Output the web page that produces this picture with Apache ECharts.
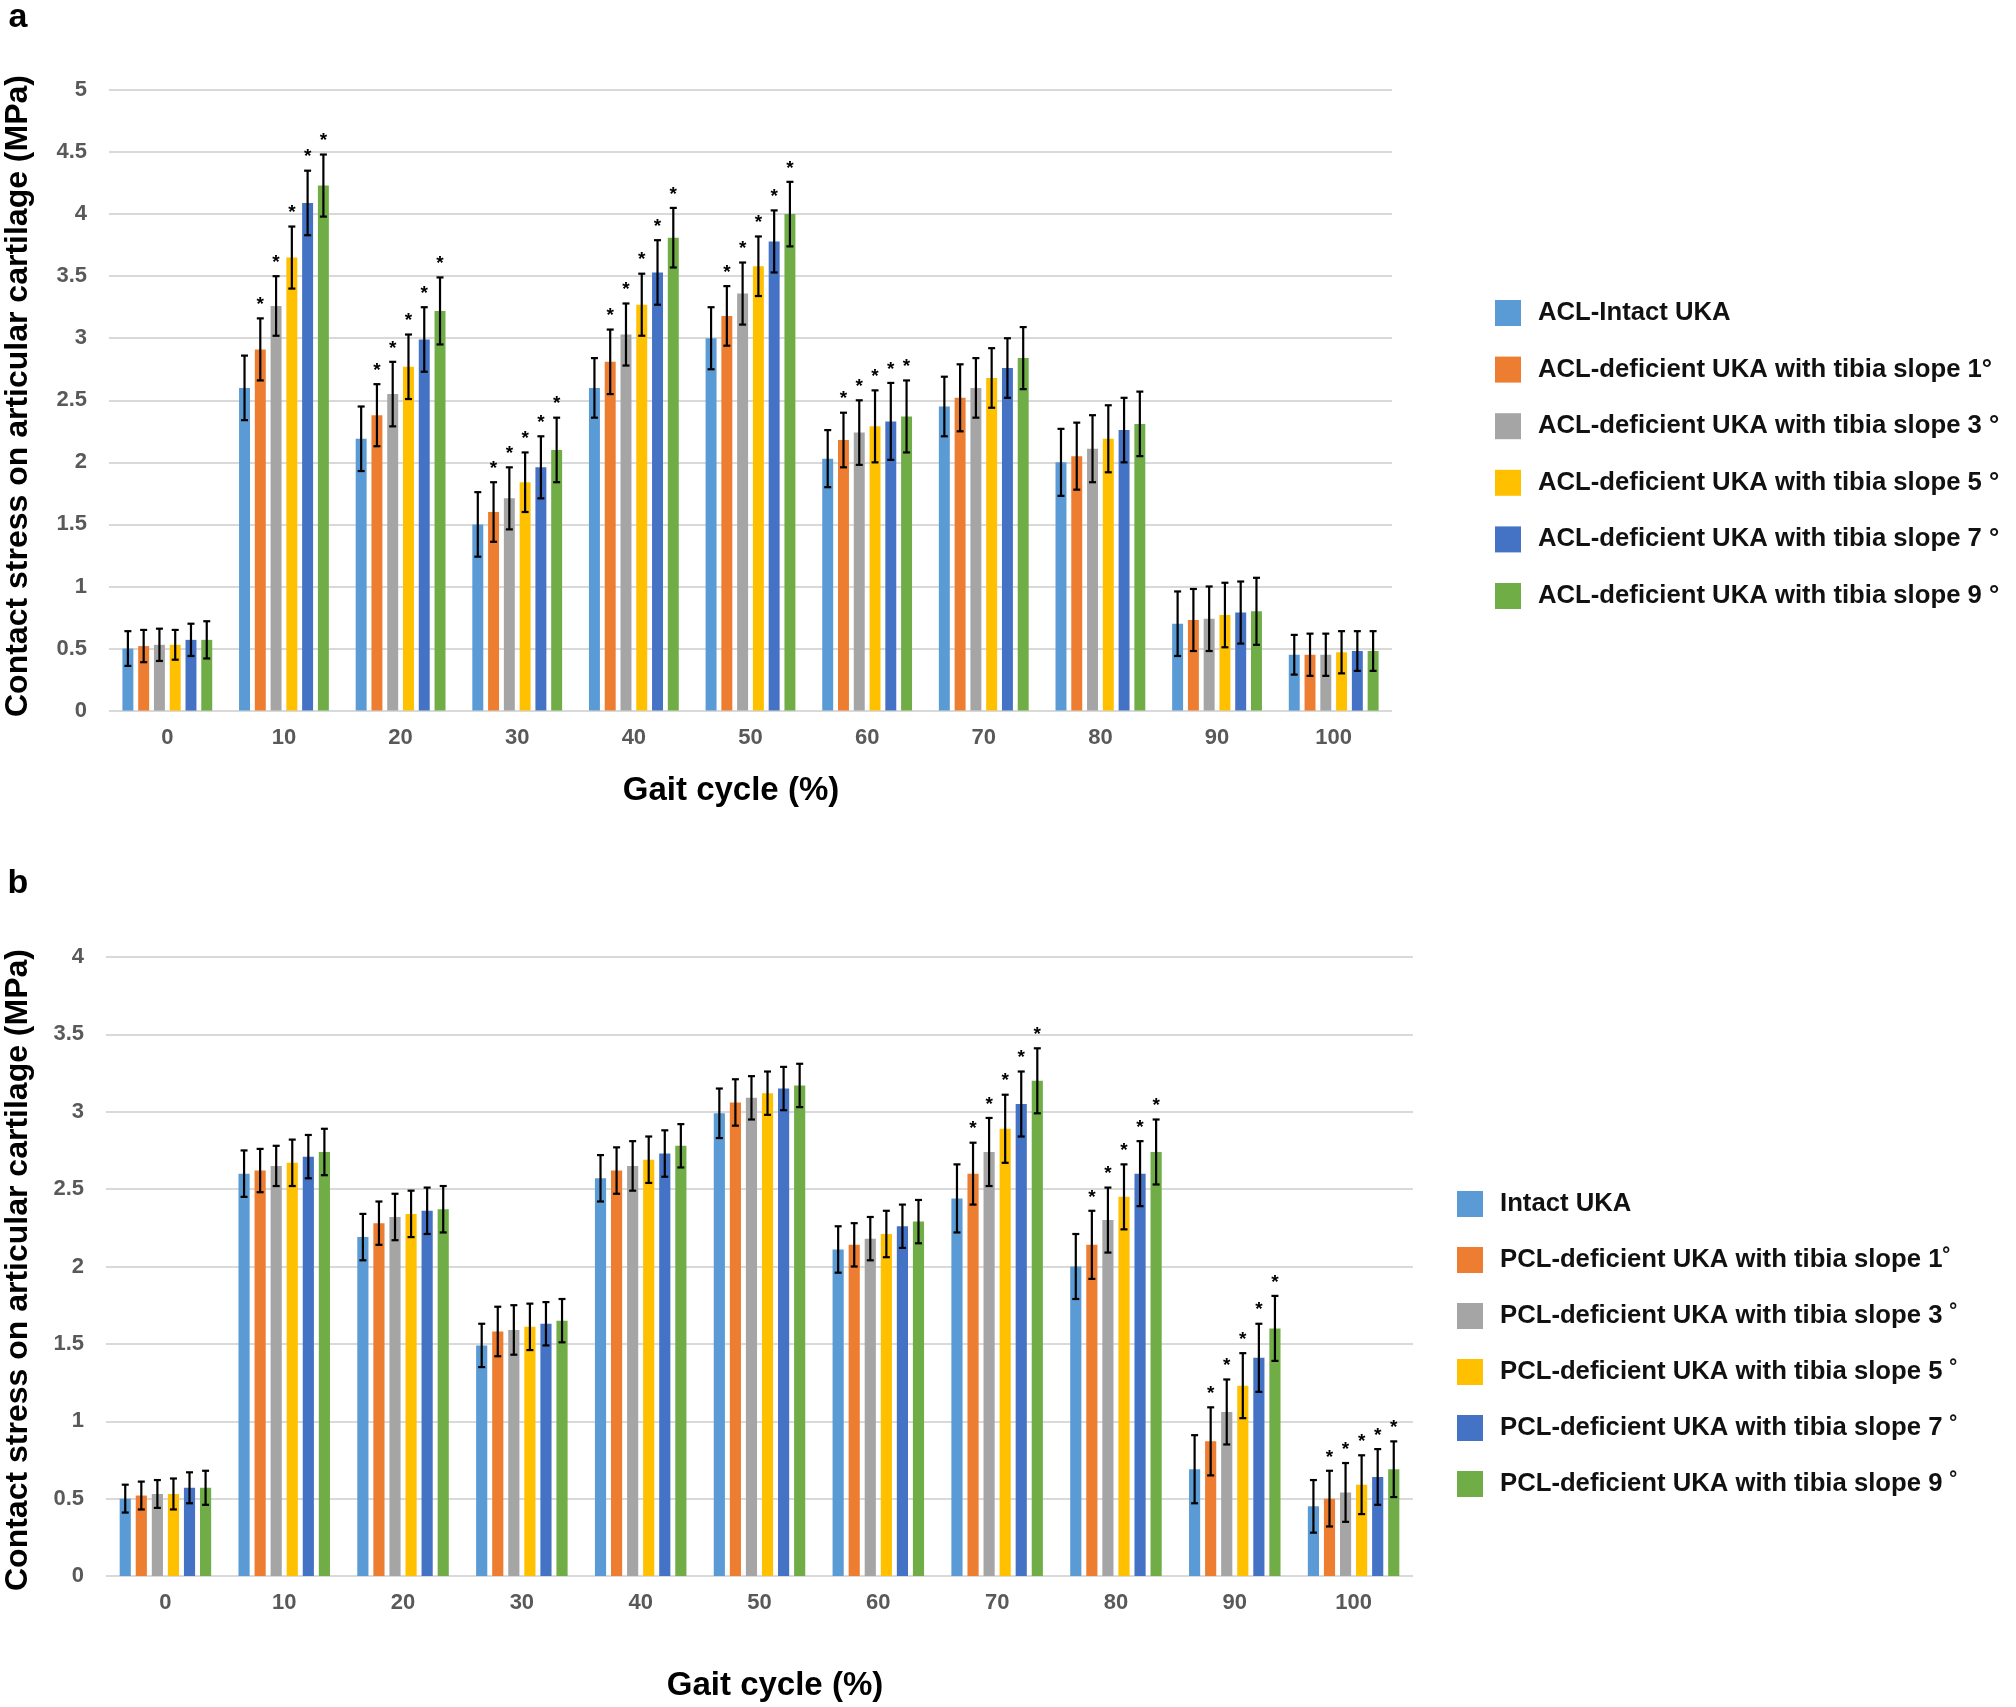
<!DOCTYPE html>
<html>
<head>
<meta charset="utf-8">
<script src="https://cdn.jsdelivr.net/npm/echarts@6/dist/echarts.min.js"></script>
<style>html,body{margin:0;padding:0;background:#fff;}#c{width:2016px;height:1707px;}</style>
</head>
<body>
<div id="c"></div>
<script>
const categories = ['0','10','20','30','40','50','60','70','80','90','100'];
const yTicksA = { min: 0, max: 5, interval: 0.5 };
const yTicksB = { min: 0, max: 4, interval: 0.5 };

const namesA = ['ACL-Intact UKA','ACL-deficient UKA with tibia slope 1°','ACL-deficient UKA with tibia slope 3 °','ACL-deficient UKA with tibia slope 5 °','ACL-deficient UKA with tibia slope 7 °','ACL-deficient UKA with tibia slope 9 °'];
const namesB = ['Intact UKA','PCL-deficient UKA with tibia slope 1˚','PCL-deficient UKA with tibia slope 3 ˚','PCL-deficient UKA with tibia slope 5 ˚','PCL-deficient UKA with tibia slope 7 ˚','PCL-deficient UKA with tibia slope 9 ˚'];
const colors = ['#5B9BD5','#ED7D31','#A5A5A5','#FFC000','#4472C4','#70AD47'];

// Panel a values
const aIntact = [0.50, 2.60, 2.19, 1.50, 2.60, 3.00, 2.03, 2.45, 2.00, 0.70, 0.45];
const aSlope1 = [0.52, 2.91, 2.38, 1.60, 2.81, 3.18, 2.18, 2.52, 2.05, 0.73, 0.45];
const aSlope3 = [0.53, 3.26, 2.55, 1.71, 3.03, 3.36, 2.24, 2.60, 2.11, 0.74, 0.45];
const aSlope5 = [0.53, 3.65, 2.77, 1.84, 3.27, 3.58, 2.29, 2.68, 2.19, 0.77, 0.47];
const aSlope7 = [0.57, 4.09, 2.99, 1.96, 3.53, 3.78, 2.33, 2.76, 2.26, 0.79, 0.48];
const aSlope9 = [0.57, 4.23, 3.22, 2.10, 3.81, 4.00, 2.37, 2.84, 2.31, 0.80, 0.48];
const aIntactErr = [0.14, 0.26, 0.26, 0.26, 0.24, 0.25, 0.23, 0.24, 0.27, 0.26, 0.16];
const aSlope1Err = [0.13, 0.25, 0.25, 0.24, 0.26, 0.24, 0.22, 0.27, 0.27, 0.25, 0.17];
const aSlope3Err = [0.13, 0.24, 0.26, 0.25, 0.25, 0.25, 0.26, 0.24, 0.27, 0.26, 0.17];
const aSlope5Err = [0.12, 0.25, 0.26, 0.24, 0.25, 0.24, 0.29, 0.24, 0.27, 0.26, 0.17];
const aSlope7Err = [0.13, 0.26, 0.26, 0.25, 0.26, 0.25, 0.31, 0.24, 0.26, 0.25, 0.16];
const aSlope9Err = [0.15, 0.25, 0.27, 0.26, 0.24, 0.26, 0.29, 0.25, 0.26, 0.27, 0.16];
const aSigCats = [1, 2, 3, 4, 5, 6];   // categories where deficient series are marked *

// Panel b values
const bIntact = [0.50, 2.60, 2.19, 1.49, 2.57, 2.99, 2.11, 2.44, 2.00, 0.69, 0.45];
const bSlope1 = [0.52, 2.62, 2.28, 1.58, 2.62, 3.06, 2.14, 2.60, 2.14, 0.87, 0.50];
const bSlope3 = [0.53, 2.65, 2.32, 1.59, 2.65, 3.09, 2.18, 2.74, 2.30, 1.06, 0.54];
const bSlope5 = [0.53, 2.67, 2.34, 1.61, 2.69, 3.12, 2.21, 2.89, 2.45, 1.23, 0.59];
const bSlope7 = [0.57, 2.71, 2.36, 1.63, 2.73, 3.15, 2.26, 3.05, 2.60, 1.41, 0.64];
const bSlope9 = [0.57, 2.74, 2.37, 1.65, 2.78, 3.17, 2.29, 3.20, 2.74, 1.60, 0.69];
const bIntactErr = [0.09, 0.15, 0.15, 0.14, 0.15, 0.16, 0.15, 0.22, 0.21, 0.22, 0.17];
const bSlope1Err = [0.09, 0.14, 0.14, 0.16, 0.15, 0.15, 0.14, 0.20, 0.22, 0.22, 0.18];
const bSlope3Err = [0.09, 0.13, 0.15, 0.16, 0.16, 0.14, 0.14, 0.22, 0.21, 0.21, 0.19];
const bSlope5Err = [0.10, 0.15, 0.15, 0.15, 0.15, 0.14, 0.15, 0.22, 0.21, 0.21, 0.19];
const bSlope7Err = [0.10, 0.14, 0.15, 0.14, 0.15, 0.14, 0.14, 0.21, 0.21, 0.22, 0.18];
const bSlope9Err = [0.11, 0.15, 0.15, 0.14, 0.14, 0.14, 0.14, 0.21, 0.21, 0.21, 0.18];
const bSigCats = [7, 8, 9, 10];

const FONT = '"Liberation Sans", Arial, Helvetica, sans-serif';
const CAT_GAP = 0.23, BAR_GAP = 0.44;

const valsA = [aIntact, aSlope1, aSlope3, aSlope5, aSlope7, aSlope9];
const errsA = [aIntactErr, aSlope1Err, aSlope3Err, aSlope5Err, aSlope7Err, aSlope9Err];
const valsB = [bIntact, bSlope1, bSlope3, bSlope5, bSlope7, bSlope9];
const errsB = [bIntactErr, bSlope1Err, bSlope3Err, bSlope5Err, bSlope7Err, bSlope9Err];

function errData(vals, errs, sigCats) {
  const out = [];
  vals.forEach((arr, s) => arr.forEach((v, c) => {
    out.push([c, s, v, errs[s][c], (s > 0 && sigCats.indexOf(c) >= 0) ? 1 : 0]);
  }));
  return out;
}

function renderErr(params, api) {
  const n = 6;
  const c = api.value(0), s = api.value(1), v = api.value(2), e = api.value(3), sig = api.value(4);
  const band = api.size([1, 0])[0];
  const w = band * (1 - CAT_GAP) / (n + (n - 1) * BAR_GAP);
  const total = n * w + (n - 1) * BAR_GAP * w;
  const cx = api.coord([c, v])[0] - total / 2 + s * w * (1 + BAR_GAP) + w / 2;
  const yT = api.coord([c, v + e])[1];
  const yB = api.coord([c, v - e])[1];
  const cap = 3.5;
  const ls = { stroke: '#000', lineWidth: 2.2 };
  const children = [
    { type: 'line', shape: { x1: cx, y1: yT, x2: cx, y2: yB }, style: ls },
    { type: 'line', shape: { x1: cx - cap, y1: yT, x2: cx + cap, y2: yT }, style: ls },
    { type: 'line', shape: { x1: cx - cap, y1: yB, x2: cx + cap, y2: yB }, style: ls }
  ];
  if (sig) {
    children.push({ type: 'text', x: cx, y: yT - 4,
      style: { text: '*', fill: '#000', fontSize: 19, fontWeight: 'bold', fontFamily: FONT,
        align: 'center', verticalAlign: 'bottom', textAlign: 'center', textVerticalAlign: 'bottom' } });
  }
  return { type: 'group', children };
}

const axisLabelStyle = { fontSize: 22, fontWeight: 'bold', color: '#595959', fontFamily: FONT };

function barSeries(names, vals, idx) {
  return names.map((nm, s) => ({
    name: nm, type: 'bar', xAxisIndex: idx, yAxisIndex: idx,
    data: vals[s], barGap: (BAR_GAP * 100) + '%', barCategoryGap: (CAT_GAP * 100) + '%',
    itemStyle: { color: colors[s] }
  }));
}

function legendOf(names, left, top, gap) {
  return {
    data: names, orient: 'vertical', left: left, top: top,
    itemWidth: 26, itemHeight: 26, itemGap: gap, icon: 'rect',
    textStyle: { fontSize: 25.7, fontWeight: 'bold', color: '#111', fontFamily: FONT, lineHeight: 26, padding: [0, 0, 0, 12] },
    selectedMode: false
  };
}

function txt(text, x, y, size, rot) {
  return { type: 'text', x: x, y: y, rotation: rot || 0,
    style: { text: text, fill: '#000', fontSize: size, fontWeight: 'bold', fontFamily: FONT,
      align: 'center', verticalAlign: 'middle', textAlign: 'center', textVerticalAlign: 'middle' } };
}

const chart = echarts.init(document.getElementById('c'), null, { renderer: 'canvas' });
const option = {
  animation: false,
  color: colors,
  grid: [
    { left: 109, right: 624, top: 90, height: 620.6 },
    { left: 106, right: 603, top: 957, height: 619 }
  ],
  xAxis: [0, 1].map(i => ({
    type: 'category', gridIndex: i, data: categories,
    axisLine: { show: false }, axisTick: { show: false },
    axisLabel: Object.assign({ margin: 16 }, axisLabelStyle)
  })),
  yAxis: [yTicksA, yTicksB].map((t, i) => ({
    type: 'value', gridIndex: i, min: t.min, max: t.max, interval: t.interval,
    axisLine: { show: false }, axisTick: { show: false },
    axisLabel: Object.assign({ margin: 22 }, axisLabelStyle),
    splitLine: { lineStyle: { color: '#d9d9d9', width: 2 } }
  })),
  legend: [legendOf(namesA, 1490, 295, 30.6), legendOf(namesB, 1452, 1186, 30)],
  series: [].concat(
    barSeries(namesA, valsA, 0),
    barSeries(namesB, valsB, 1),
    [
      { type: 'custom', xAxisIndex: 0, yAxisIndex: 0, renderItem: renderErr, data: errData(valsA, errsA, aSigCats), encode: { x: 0, y: 2 }, z: 10, clip: false, silent: true },
      { type: 'custom', xAxisIndex: 1, yAxisIndex: 1, renderItem: renderErr, data: errData(valsB, errsB, bSigCats), encode: { x: 0, y: 2 }, z: 10, clip: false, silent: true }
    ]
  ),
  graphic: [
    txt('a', 18, 18, 34),
    txt('b', 18, 884, 34),
    txt('Contact stress on articular cartilage (MPa)', 18, 396, 32, Math.PI / 2),
    txt('Contact stress on articular cartilage (MPa)', 18, 1270, 32, Math.PI / 2),
    txt('Gait cycle (%)', 731, 791, 33),
    txt('Gait cycle (%)', 775, 1686, 33)
  ]
};
chart.setOption(option);
</script>
</body>
</html>
